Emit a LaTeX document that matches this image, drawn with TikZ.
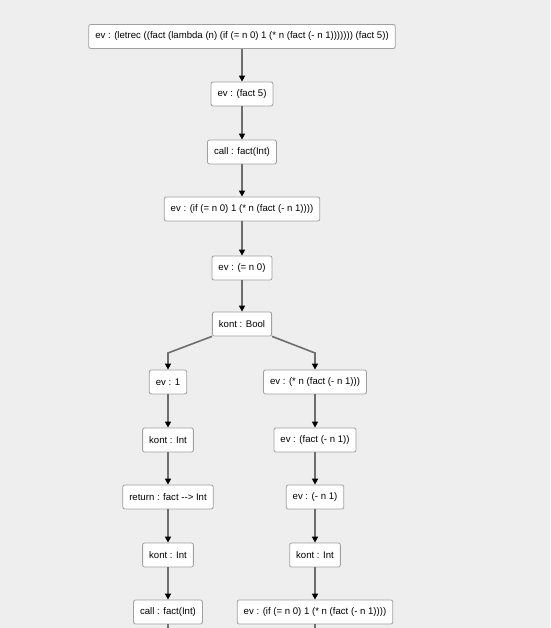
\documentclass[tikz,border=0pt]{standalone}
\usepackage{fontspec}
\setmainfont{Liberation Sans}
\usetikzlibrary{arrows.meta}
\definecolor{bg}{HTML}{EEEEEE}
\definecolor{boxline}{HTML}{A0A0A0}
\definecolor{edgec}{HTML}{6E6E6E}
\tikzset{
  box/.style={draw=boxline, fill=white, rounded corners=2pt, line width=0.8pt,
    minimum height=24pt, inner xsep=6.5pt, inner ysep=0pt, font=\fontsize{9.6}{11}\selectfont},
  link/.style={draw=edgec, line width=1.6pt, -{Triangle[length=6pt,width=6pt,color=black]}},
  tail/.style={draw=edgec, line width=1.6pt}
}
\begin{document}
\begin{tikzpicture}[x=1pt,y=-1pt]
\fill[bg] (0,0) rectangle (550,628);
\useasboundingbox (0,0) rectangle (550,628);
\node[box] (n1) at (242,36.5) {ev : (letrec ((fact (lambda (n) (if (= n 0) 1 (* n (fact (- n 1))))))) (fact 5))};
\node[box] (n2) at (242,94) {ev : (fact 5)};
\node[box] (n3) at (242,152) {call : fact(Int)};
\node[box] (n4) at (242,209) {ev : (if (= n 0) 1 (* n (fact (- n 1))))};
\node[box] (n5) at (242,268) {ev : (= n 0)};
\node[box] (n6) at (242,324) {kont : Bool};
\node[box] (l1) at (168,382) {ev : 1};
\node[box] (l2) at (168,440) {kont : Int};
\node[box] (l3) at (168,497) {return : fact -{}-{}> Int};
\node[box] (l4) at (168,555) {kont : Int};
\node[box] (l5) at (168,612) {call : fact(Int)};
\node[box] (r1) at (315,382) {ev : (* n (fact (- n 1)))};
\node[box] (r2) at (315,440) {ev : (fact (- n 1))};
\node[box] (r3) at (315,497) {ev : (- n 1)};
\node[box] (r4) at (315,555) {kont : Int};
\node[box] (r5) at (315,612) {ev : (if (= n 0) 1 (* n (fact (- n 1))))};
\coordinate (le) at (168,628);
\coordinate (re) at (315,628);
\foreach \a/\b in {n1/n2,n2/n3,n3/n4,n4/n5,n5/n6,l1/l2,l2/l3,l3/l4,l4/l5,r1/r2,r2/r3,r3/r4,r4/r5}
  \draw[link] (\a.south) -- (\b.north);
\draw[link] (n6.south west) -- (168,353) -- (l1.north);
\draw[link] (n6.south east) -- (315,353) -- (r1.north);
\draw[tail] (l5.south) -- (le);
\draw[tail] (r5.south) -- (re);
\end{tikzpicture}
\end{document}
